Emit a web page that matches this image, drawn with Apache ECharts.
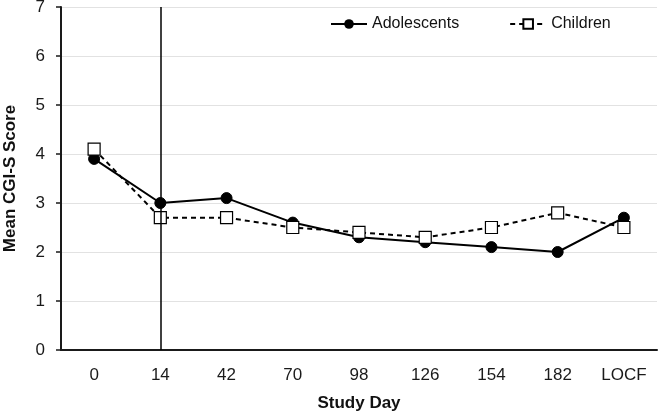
<!DOCTYPE html>
<html>
<head>
<meta charset="utf-8">
<script src="https://cdn.jsdelivr.net/npm/echarts@6/dist/echarts.min.js"></script>
<style>html,body{margin:0;padding:0;background:#fff}#c{width:660px;height:414px}</style>
</head>
<body>
<div id="c"></div>
<script>
var categories = ['0', '14', '42', '70', '98', '126', '154', '182', 'LOCF'];
var adolescents = [3.9, 3.0, 3.1, 2.6, 2.3, 2.2, 2.1, 2.0, 2.7];
var children = [4.1, 2.7, 2.7, 2.5, 2.4, 2.3, 2.5, 2.8, 2.5];
var yTicks = [0, 1, 2, 3, 4, 5, 6, 7];

var chart = echarts.init(document.getElementById('c'));
chart.setOption({
  animation: false,
  textStyle: { fontFamily: 'Liberation Sans, Arial, sans-serif' },
  grid: { left: 61, right: 3, top: 7, bottom: 64, outerBoundsMode: 'none', containLabel: false },
  legend: {
    left: 325, top: 11, itemGap: 50, itemWidth: 36, itemHeight: 12,
    textStyle: { fontSize: 16, color: '#111' },
    data: ['Adolescents', 'Children']
  },
  xAxis: {
    type: 'category', data: categories, boundaryGap: true,
    name: 'Study Day', nameLocation: 'middle', nameGap: 45,
    nameTextStyle: { fontSize: 17, fontWeight: 'bold', color: '#111' },
    axisLine: { lineStyle: { color: '#1a1a1a', width: 2 } },
    axisTick: { alignWithLabel: true, length: 5, lineStyle: { color: '#1a1a1a', width: 1.5 } },
    axisLabel: { fontSize: 17, color: '#1a1a1a', margin: 17 },
    splitLine: { show: false }
  },
  yAxis: {
    type: 'value', min: yTicks[0], max: yTicks[yTicks.length - 1], interval: 1,
    name: 'Mean CGI-S Score', nameLocation: 'middle', nameGap: 42,
    nameTextStyle: { fontSize: 17, fontWeight: 'bold', color: '#111' },
    axisLine: { show: true, lineStyle: { color: '#1a1a1a', width: 2 } },
    axisTick: { show: true, length: 5, lineStyle: { color: '#1a1a1a', width: 1.5 } },
    axisLabel: { fontSize: 17, color: '#1a1a1a', margin: 16 },
    splitLine: { show: true, lineStyle: { color: '#e2e2e2', width: 1 } }
  },
  series: [
    {
      name: 'Adolescents', type: 'line', data: adolescents,
      symbol: 'circle', symbolSize: 11,
      lineStyle: { color: '#000', width: 2 },
      itemStyle: { color: '#000', borderColor: '#000' },
      z: 3,
      markLine: {
        silent: true, symbol: 'none', label: { show: false },
        lineStyle: { color: '#000', width: 1.5, type: 'solid' },
        data: [{ xAxis: '14' }]
      }
    },
    {
      name: 'Children', type: 'line', data: children,
      symbol: 'rect', symbolSize: 12,
      lineStyle: { color: '#000', width: 2, type: [5, 4] },
      itemStyle: { color: '#fff', borderColor: '#000', borderWidth: 1.2 },
      z: 4
    }
  ]
});
</script>
</body>
</html>
